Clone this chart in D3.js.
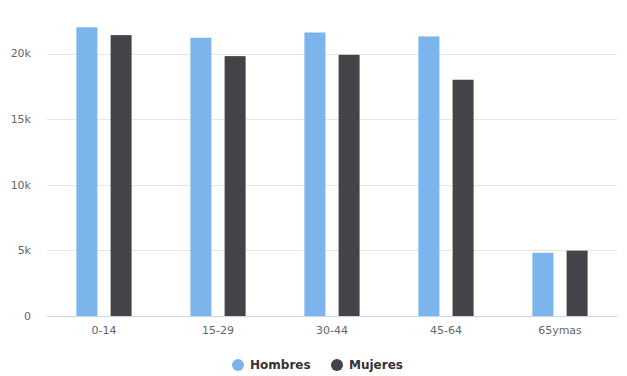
<!DOCTYPE html>
<html>
<head>
<meta charset="utf-8">
<script src="https://cdn.jsdelivr.net/npm/d3@7"></script>
<style>
  body { margin: 0; background: #fff; }
  svg { font-family: "DejaVu Sans", sans-serif; }
  .axis text { fill: #666; font-size: 11px; }
</style>
</head>
<body>
<svg id="chart"></svg>
<script>
const categories = ['0-14', '15-29', '30-44', '45-64', '65ymas'];
const hombres = [22000, 21200, 21600, 21300, 4820];
const mujeres = [21400, 19800, 19900, 18000, 4980];
const yTicks = [0, 5000, 10000, 15000, 20000];
const seriesNames = ['Hombres', 'Mujeres'];
const colors = ['#7cb5ec', '#434348'];

const width = 627;
const height = 376;
const margin = { top: 0, right: 10, bottom: 60, left: 47 };
const plotBottom = 316;

const svg = d3.select('#chart')
  .attr('width', width)
  .attr('height', height);

const x0 = d3.scaleBand()
  .domain(categories)
  .range([margin.left, width - margin.right]);

const x1 = d3.scaleBand()
  .domain(seriesNames)
  .range([x0.bandwidth() * 0.2, x0.bandwidth() * 0.8])
  .paddingInner(0.386)
  .paddingOuter(0.193);

// 20k sits at y=53.5, 0 at y=316
const y = d3.scaleLinear()
  .domain([0, 20000])
  .range([plotBottom, 53.5]);

// Grid lines
svg.append('g')
  .selectAll('line')
  .data(yTicks)
  .enter().append('line')
    .attr('x1', margin.left)
    .attr('x2', width - margin.right)
    .attr('y1', d => Math.round(y(d)) + 0.5)
    .attr('y2', d => Math.round(y(d)) + 0.5)
    .attr('stroke', d => d === 0 ? '#ccd6eb' : '#e6e6e6')
    .attr('stroke-width', 1);

// Y labels
svg.append('g')
  .attr('class', 'axis')
  .selectAll('text')
  .data(yTicks)
  .enter().append('text')
    .attr('x', 31)
    .attr('y', d => y(d))
    .attr('dy', '0.35em')
    .attr('text-anchor', 'end')
    .text(d => d === 0 ? '0' : `${d / 1000}k`);

// X labels
svg.append('g')
  .attr('class', 'axis')
  .selectAll('text')
  .data(categories)
  .enter().append('text')
    .attr('x', d => x0(d) + x0.bandwidth() / 2)
    .attr('y', 330)
    .attr('dy', '0.35em')
    .attr('text-anchor', 'middle')
    .text(d => d);

// Bars
const rows = categories.map((c, i) => ({ cat: c, values: [hombres[i], mujeres[i]] }));

const groups = svg.append('g')
  .selectAll('g')
  .data(rows)
  .enter().append('g')
    .attr('transform', d => `translate(${x0(d.cat)}, 0)`);

groups.selectAll('rect')
  .data(d => d.values.map((v, j) => ({ name: seriesNames[j], value: v, color: colors[j] })))
  .enter().append('rect')
    .attr('x', d => x1(d.name))
    .attr('y', d => y(d.value))
    .attr('width', x1.bandwidth())
    .attr('height', d => plotBottom - y(d.value))
    .attr('fill', d => d.color);

// Legend
const legendItems = [
  { name: seriesNames[0], color: colors[0], x: 238 },
  { name: seriesNames[1], color: colors[1], x: 337 }
];

const legend = svg.append('g')
  .selectAll('g')
  .data(legendItems)
  .enter().append('g')
    .attr('transform', d => `translate(${d.x}, 365)`);

legend.append('circle')
  .attr('r', 6)
  .attr('fill', d => d.color);

legend.append('text')
  .attr('x', 12)
  .attr('dy', '0.35em')
  .attr('font-size', 12)
  .attr('font-weight', 'bold')
  .attr('fill', '#333')
  .text(d => d.name);
</script>
</body>
</html>
